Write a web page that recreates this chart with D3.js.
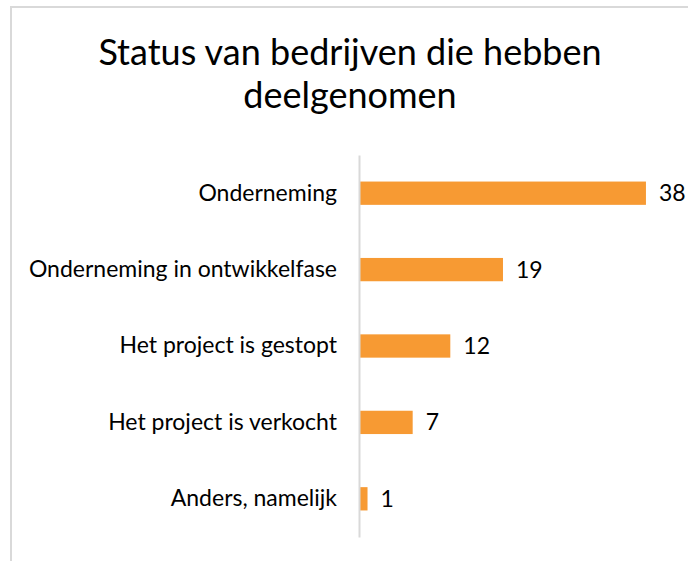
<!DOCTYPE html>
<html><head><meta charset="utf-8">
<script src="https://cdn.jsdelivr.net/npm/d3@7"></script>
<style>html,body{margin:0;padding:0;background:#fff;overflow:hidden}</style>
</head><body><svg id="c" width="688" height="561"></svg>
<script>
const categories = ["Onderneming","Onderneming in ontwikkelfase","Het project is gestopt","Het project is verkocht","Anders, namelijk"];
const values = [38,19,12,7,1];
const titleLines = ["Status van bedrijven die hebben","deelgenomen"];

const svg = d3.select("#c");
const FONT = "Lato, 'Open Sans', sans-serif";
svg.append("rect").attr("x",11).attr("y",7).attr("width",700).attr("height",600)
  .attr("fill","#fff").attr("stroke","#d9d9d9").attr("stroke-width",2);

svg.append("g").selectAll("text").data(titleLines).join("text")
  .attr("x",350).attr("y",(d,i)=>65+i*43).attr("text-anchor","middle")
  .attr("font-family",FONT).attr("font-size",36).attr("fill","#000")
  .text(d=>d);

const x = d3.scaleLinear().domain([0,40]).range([360,661]);
const y = d3.scaleBand().domain(categories).range([155,537]).paddingInner(0.695).paddingOuter(0.3475);

svg.append("g").selectAll("rect").data(values).join("rect")
  .attr("x",x(0)).attr("y",(d,i)=>y(categories[i]))
  .attr("width",d=>x(d)-x(0)).attr("height",y.bandwidth())
  .attr("fill","#F79A33");

const ax = svg.append("g").attr("transform",`translate(${x(0)-1},0)`)
  .call(d3.axisLeft(y).tickSize(0).tickPadding(22));
ax.select(".domain").attr("stroke","#d9d9d9").attr("stroke-width",2);
ax.selectAll("text").attr("font-family",FONT).attr("font-size",23).attr("fill","#000");

svg.append("g").selectAll("text").data(values).join("text")
  .attr("x",d=>x(d)+13).attr("y",(d,i)=>y(categories[i])+y.bandwidth()/2)
  .attr("dy","0.35em").attr("font-family",FONT).attr("font-size",23).attr("fill","#000")
  .text(d=>d);
</script></body></html>
